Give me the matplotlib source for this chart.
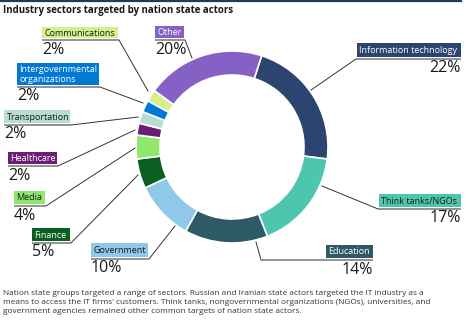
import matplotlib.pyplot as plt

plt.rcParams['font.family'] = ['Open Sans', 'DejaVu Sans']

sectors = ["Information technology", "Think tanks/NGOs", "Education", "Government",
           "Finance", "Media", "Healthcare", "Transportation",
           "Intergovernmental\norganizations", "Communications", "Other"]
shares = [22, 17, 14, 10, 5, 4, 2, 2, 2, 2, 20]
colors = ["#2b4470", "#4dc6b0", "#2e5966", "#8fc8e8", "#0a5e1f", "#8ee86e",
          "#6b1f74", "#b8ddd2", "#0078d4", "#d6ef8e", "#8661c5"]
text_colors = ["white", "#1a1a1a", "white", "#1a1a1a", "white", "#1a1a1a",
               "white", "#1a1a1a", "white", "#1a1a1a", "white"]

# label boxes in pixels: (left, top, right, bottom, side, ring point)
boxes = [
    (357, 43, 461, 57, "right", (311, 90)),
    (379, 194, 461, 207, "right", (322, 186)),
    (326, 245, 373, 258, "right", (256, 242)),
    (91, 243, 148, 257, "left", (175, 226)),
    (32, 228, 70, 241, "left", (138, 175)),
    (14, 191, 45, 204, "left", (135, 148)),
    (8, 152, 57, 164, "left", (135, 130)),
    (4, 110, 70, 123, "left", (138, 117)),
    (17, 63, 99, 85, "left", (143, 103)),
    (42, 27, 118, 38, "left", (148, 91)),
    (155, 26, 184, 38, "left", (192, 58)),
]

W, H = 474, 328
fig = plt.figure(figsize=(W / 100, H / 100), dpi=100)
ax = fig.add_axes([0, 0, 1, 1])

# y axis runs downward, so counterclock=True reads clockwise on screen
ax.pie(shares, colors=colors, startangle=-72, counterclock=True,
       center=(232, 147), radius=96,
       wedgeprops=dict(width=24, edgecolor="white", linewidth=1.2))
ax.set_xlim(0, W)
ax.set_ylim(H, 0)
ax.set_aspect("equal")
ax.axis("off")

for name, v, c, tc, (l, t, r, b, side, pt) in zip(sectors, shares, colors, text_colors, boxes):
    ax.add_patch(plt.Rectangle((l, t), r - l, b - t, facecolor=c, edgecolor="none"))
    ax.text(l + 2.5, (t + b) / 2 + 0.5, name, color=tc, fontsize=6.5,
            ha="left", va="center", linespacing=1.15)
    uy = b + 2
    if side == "right":
        x0 = pt[0] + 5 if name == "Education" else l - 1
        ax.plot([pt[0], x0], [pt[1], uy], color="#333333", lw=0.7)
        ax.plot([x0, r], [uy, uy], color="#8a8a8a", lw=1.3, solid_capstyle="butt")
        ax.text(r, uy + 1.5, f"{v}%", fontsize=11.5, color="#1a1a1a",
                ha="right", va="top")
    else:
        ax.plot([r + 1, pt[0]], [uy, pt[1]], color="#333333", lw=0.7)
        ax.plot([l, r + 1], [uy, uy], color="#8a8a8a", lw=1.3, solid_capstyle="butt")
        ax.text(l, uy + 1.5, f"{v}%", fontsize=11.5, color="#1a1a1a",
                ha="left", va="top")

# header rule and title
ax.plot([0, 461], [0.8, 0.8], color="#243a4e", lw=1.6)
ax.text(3, 10, "Industry sectors targeted by nation state actors", fontsize=7,
        fontweight="bold", color="#1a1a1a", ha="left", va="center")

note = ("Nation state groups targeted a range of sectors. Russian and Iranian state actors targeted the IT industry as a\n"
        "means to access the IT firms' customers. Think tanks, nongovernmental organizations (NGOs), universities, and\n"
        "government agencies remained other common targets of nation state actors.")
ax.text(3, 290, note, fontsize=5.95, color="#333333", ha="left", va="top", linespacing=1.4)

fig.savefig("out.png", dpi=100)
